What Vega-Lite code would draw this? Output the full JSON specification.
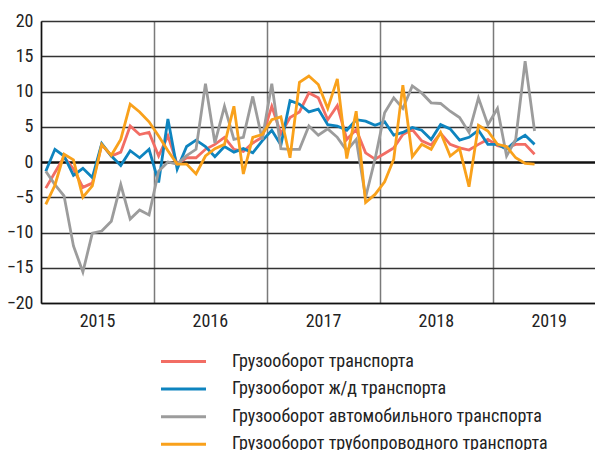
{
  "$schema": "https://vega.github.io/schema/vega-lite/v6.json",
  "width": 554,
  "height": 282,
  "autosize": {"type": "none"},
  "padding": {"left": 41, "top": 21, "right": 0, "bottom": 147},
  "background": "white",
  "config": {
    "view": {"stroke": null},
    "font": "Noto Sans Condensed, Roboto Condensed, Liberation Sans Narrow, Roboto, sans-serif"
  },
  "data": {
    "values": [
      {"date": "2015-01-01", "Грузооборот транспорта": -3.7, "Грузооборот ж/д транспорта": -1.3, "Грузооборот автомобильного транспорта": -1.3, "Грузооборот трубопроводного транспорта": -6.0},
      {"date": "2015-02-01", "Грузооборот транспорта": -1.5, "Грузооборот ж/д транспорта": 1.8, "Грузооборот автомобильного транспорта": -3.2, "Грузооборот трубопроводного транспорта": -3.3},
      {"date": "2015-03-01", "Грузооборот транспорта": 0.7, "Грузооборот ж/д транспорта": 0.85, "Грузооборот автомобильного транспорта": -4.8, "Грузооборот трубопроводного транспорта": 1.1},
      {"date": "2015-04-01", "Грузооборот транспорта": -1.0, "Грузооборот ж/д транспорта": -1.9, "Грузооборот автомобильного транспорта": -11.9, "Грузооборот трубопроводного транспорта": 0.3},
      {"date": "2015-05-01", "Грузооборот транспорта": -3.6, "Грузооборот ж/д транспорта": -0.9, "Грузооборот автомобильного транспорта": -15.6, "Грузооборот трубопроводного транспорта": -5.0},
      {"date": "2015-06-01", "Грузооборот транспорта": -3.0, "Грузооборот ж/д транспорта": -2.2, "Грузооборот автомобильного транспорта": -10.1, "Грузооборот трубопроводного транспорта": -3.4},
      {"date": "2015-07-01", "Грузооборот транспорта": 2.5, "Грузооборот ж/д транспорта": 2.6, "Грузооборот автомобильного транспорта": -9.8, "Грузооборот трубопроводного транспорта": 2.5},
      {"date": "2015-08-01", "Грузооборот транспорта": 0.85, "Грузооборот ж/д транспорта": 0.85, "Грузооборот автомобильного транспорта": -8.4, "Грузооборот трубопроводного транспорта": 0.95},
      {"date": "2015-09-01", "Грузооборот транспорта": 1.4, "Грузооборот ж/д транспорта": -0.5, "Грузооборот автомобильного транспорта": -3.2, "Грузооборот трубопроводного транспорта": 3.2},
      {"date": "2015-10-01", "Грузооборот транспорта": 5.1, "Грузооборот ж/д транспорта": 1.6, "Грузооборот автомобильного транспорта": -8.1, "Грузооборот трубопроводного транспорта": 8.2},
      {"date": "2015-11-01", "Грузооборот транспорта": 3.9, "Грузооборот ж/д транспорта": 0.6, "Грузооборот автомобильного транспорта": -6.8, "Грузооборот трубопроводного транспорта": 7.1},
      {"date": "2015-12-01", "Грузооборот транспорта": 4.2, "Грузооборот ж/д транспорта": 1.8, "Грузооборот автомобильного транспорта": -7.5, "Грузооборот трубопроводного транспорта": 5.7},
      {"date": "2016-01-01", "Грузооборот транспорта": 0.85, "Грузооборот ж/д транспорта": -2.9, "Грузооборот автомобильного транспорта": -1.3, "Грузооборот трубопроводного транспорта": 3.7},
      {"date": "2016-02-01", "Грузооборот транспорта": 3.7, "Грузооборот ж/д транспорта": 6.1, "Грузооборот автомобильного транспорта": 0.0, "Грузооборот трубопроводного транспорта": 1.6},
      {"date": "2016-03-01", "Грузооборот транспорта": -0.3, "Грузооборот ж/д транспорта": -1.0, "Грузооборот автомобильного транспорта": -0.3, "Грузооборот трубопроводного транспорта": -0.3},
      {"date": "2016-04-01", "Грузооборот транспорта": 0.6, "Грузооборот ж/д транспорта": 2.2, "Грузооборот автомобильного транспорта": 0.9, "Грузооборот трубопроводного транспорта": -0.3},
      {"date": "2016-05-01", "Грузооборот транспорта": 0.6, "Грузооборот ж/д транспорта": 3.1, "Грузооборот автомобильного транспорта": 1.8, "Грузооборот трубопроводного транспорта": -1.7},
      {"date": "2016-06-01", "Грузооборот транспорта": 1.8, "Грузооборот ж/д транспорта": 2.2, "Грузооборот автомобильного транспорта": 11.1, "Грузооборот трубопроводного транспорта": 0.85},
      {"date": "2016-07-01", "Грузооборот транспорта": 2.5, "Грузооборот ж/д транспорта": 0.75, "Грузооборот автомобильного транспорта": 2.7, "Грузооборот трубопроводного транспорта": 1.9},
      {"date": "2016-08-01", "Грузооборот транспорта": 3.5, "Грузооборот ж/д транспорта": 2.2, "Грузооборот автомобильного транспорта": 7.9, "Грузооборот трубопроводного транспорта": 2.5},
      {"date": "2016-09-01", "Грузооборот транспорта": 1.8, "Грузооборот ж/д транспорта": 1.4, "Грузооборот автомобильного транспорта": 3.2, "Грузооборот трубопроводного транспорта": 7.9},
      {"date": "2016-10-01", "Грузооборот транспорта": 1.5, "Грузооборот ж/д транспорта": 1.9, "Грузооборот автомобильного транспорта": 3.5, "Грузооборот трубопроводного транспорта": -1.7},
      {"date": "2016-11-01", "Грузооборот транспорта": 2.7, "Грузооборот ж/д транспорта": 1.3, "Грузооборот автомобильного транспорта": 9.3, "Грузооборот трубопроводного транспорта": 3.5},
      {"date": "2016-12-01", "Грузооборот транспорта": 3.5, "Грузооборот ж/д транспорта": 3.0, "Грузооборот автомобильного транспорта": 3.2, "Грузооборот трубопроводного транспорта": 3.9},
      {"date": "2017-01-01", "Грузооборот транспорта": 7.9, "Грузооборот ж/д транспорта": 4.5, "Грузооборот автомобильного транспорта": 11.1, "Грузооборот трубопроводного транспорта": 6.0},
      {"date": "2017-02-01", "Грузооборот транспорта": 4.0, "Грузооборот ж/д транспорта": 2.4, "Грузооборот автомобильного транспорта": 1.9, "Грузооборот трубопроводного транспорта": 6.4},
      {"date": "2017-03-01", "Грузооборот транспорта": 6.3, "Грузооборот ж/д транспорта": 8.7, "Грузооборот автомобильного транспорта": 1.8, "Грузооборот трубопроводного транспорта": 0.6},
      {"date": "2017-04-01", "Грузооборот транспорта": 7.1, "Грузооборот ж/д транспорта": 8.2, "Грузооборот автомобильного транспорта": 1.8, "Грузооборот трубопроводного транспорта": 11.3},
      {"date": "2017-05-01", "Грузооборот транспорта": 9.8, "Грузооборот ж/д транспорта": 7.1, "Грузооборот автомобильного транспорта": 5.1, "Грузооборот трубопроводного транспорта": 12.2},
      {"date": "2017-06-01", "Грузооборот транспорта": 9.1, "Грузооборот ж/д транспорта": 7.5, "Грузооборот автомобильного транспорта": 3.8, "Грузооборот трубопроводного транспорта": 11.0},
      {"date": "2017-07-01", "Грузооборот транспорта": 6.0, "Грузооборот ж/д транспорта": 5.3, "Грузооборот автомобильного транспорта": 4.7, "Грузооборот трубопроводного транспорта": 7.6},
      {"date": "2017-08-01", "Грузооборот транспорта": 8.0, "Грузооборот ж/д транспорта": 5.1, "Грузооборот автомобильного транспорта": 3.5, "Грузооборот трубопроводного транспорта": 11.8},
      {"date": "2017-09-01", "Грузооборот транспорта": 3.2, "Грузооборот ж/д транспорта": 4.5, "Грузооборот автомобильного транспорта": 1.6, "Грузооборот трубопроводного транспорта": 0.5},
      {"date": "2017-10-01", "Грузооборот транспорта": 4.6, "Грузооборот ж/д транспорта": 6.0, "Грузооборот автомобильного транспорта": 3.2, "Грузооборот трубопроводного транспорта": 7.2},
      {"date": "2017-11-01", "Грузооборот транспорта": 1.3, "Грузооборот ж/д транспорта": 5.8, "Грузооборот автомобильного транспорта": -5.0, "Грузооборот трубопроводного транспорта": -5.75},
      {"date": "2017-12-01", "Грузооборот транспорта": 0.4, "Грузооборот ж/д транспорта": 5.2, "Грузооборот автомобильного транспорта": 0.4, "Грузооборот трубопроводного транспорта": -4.6},
      {"date": "2018-01-01", "Грузооборот транспорта": 1.2, "Грузооборот ж/д транспорта": 5.7, "Грузооборот автомобильного транспорта": 7.0, "Грузооборот трубопроводного транспорта": -2.8},
      {"date": "2018-02-01", "Грузооборот транспорта": 2.0, "Грузооборот ж/д транспорта": 3.8, "Грузооборот автомобильного транспорта": 9.1, "Грузооборот трубопроводного транспорта": 0.4},
      {"date": "2018-03-01", "Грузооборот транспорта": 3.9, "Грузооборот ж/д транспорта": 4.2, "Грузооборот автомобильного транспорта": 7.6, "Грузооборот трубопроводного транспорта": 10.9},
      {"date": "2018-04-01", "Грузооборот транспорта": 4.6, "Грузооборот ж/д транспорта": 4.9, "Грузооборот автомобильного транспорта": 10.8, "Грузооборот трубопроводного транспорта": 0.75},
      {"date": "2018-05-01", "Грузооборот транспорта": 3.0, "Грузооборот ж/д транспорта": 4.5, "Грузооборот автомобильного транспорта": 9.8, "Грузооборот трубопроводного транспорта": 2.5},
      {"date": "2018-06-01", "Грузооборот транспорта": 2.4, "Грузооборот ж/д транспорта": 3.2, "Грузооборот автомобильного транспорта": 8.4, "Грузооборот трубопроводного транспорта": 1.8},
      {"date": "2018-07-01", "Грузооборот транспорта": 4.1, "Грузооборот ж/д транспорта": 5.3, "Грузооборот автомобильного транспорта": 8.3, "Грузооборот трубопроводного транспорта": 4.2},
      {"date": "2018-08-01", "Грузооборот транспорта": 2.5, "Грузооборот ж/д транспорта": 4.7, "Грузооборот автомобильного транспорта": 7.2, "Грузооборот трубопроводного транспорта": 0.85},
      {"date": "2018-09-01", "Грузооборот транспорта": 2.0, "Грузооборот ж/д транспорта": 3.1, "Грузооборот автомобильного транспорта": 6.3, "Грузооборот трубопроводного транспорта": 1.9},
      {"date": "2018-10-01", "Грузооборот транспорта": 1.7, "Грузооборот ж/д транспорта": 3.5, "Грузооборот автомобильного транспорта": 4.2, "Грузооборот трубопроводного транспорта": -3.5},
      {"date": "2018-11-01", "Грузооборот транспорта": 2.5, "Грузооборот ж/д транспорта": 4.5, "Грузооборот автомобильного транспорта": 9.1, "Грузооборот трубопроводного транспорта": 5.2},
      {"date": "2018-12-01", "Грузооборот транспорта": 3.2, "Грузооборот ж/д транспорта": 2.5, "Грузооборот автомобильного транспорта": 5.3, "Грузооборот трубопроводного транспорта": 4.4},
      {"date": "2019-01-01", "Грузооборот транспорта": 2.3, "Грузооборот ж/д транспорта": 2.5, "Грузооборот автомобильного транспорта": 7.6, "Грузооборот трубопроводного транспорта": 2.5},
      {"date": "2019-02-01", "Грузооборот транспорта": 2.0, "Грузооборот ж/д транспорта": 1.8, "Грузооборот автомобильного транспорта": 0.85, "Грузооборот трубопроводного транспорта": 2.2},
      {"date": "2019-03-01", "Грузооборот транспорта": 2.5, "Грузооборот ж/д транспорта": 3.0, "Грузооборот автомобильного транспорта": 3.2, "Грузооборот трубопроводного транспорта": 0.6},
      {"date": "2019-04-01", "Грузооборот транспорта": 2.5, "Грузооборот ж/д транспорта": 3.8, "Грузооборот автомобильного транспорта": 14.3, "Грузооборот трубопроводного транспорта": -0.2},
      {"date": "2019-05-01", "Грузооборот транспорта": 1.1, "Грузооборот ж/д транспорта": 2.5, "Грузооборот автомобильного транспорта": 4.4, "Грузооборот трубопроводного транспорта": -0.3}
    ]
  },
  "transform": [
    {"fold": ["Грузооборот транспорта", "Грузооборот ж/д транспорта", "Грузооборот автомобильного транспорта", "Грузооборот трубопроводного транспорта"], "as": ["series", "value"]}
  ],
  "mark": {"type": "line", "strokeWidth": 2.8, "strokeJoin": "miter"},
  "encoding": {
    "x": {
      "field": "date",
      "timeUnit": "utcyearmonth",
      "type": "temporal",
      "bandPosition": 0.5,
      "title": null,
      "scale": {
        "type": "utc",
        "domain": [{"year": 2015, "month": 1, "date": 1, "utc": true}, {"year": 2019, "month": 11, "date": 28, "utc": true}],
        "nice": false
      },
      "axis": {
        "values": [
          {"year": 2015, "month": 1, "date": 1, "utc": true},
          {"year": 2016, "month": 1, "date": 1, "utc": true},
          {"year": 2017, "month": 1, "date": 1, "utc": true},
          {"year": 2018, "month": 1, "date": 1, "utc": true},
          {"year": 2019, "month": 1, "date": 1, "utc": true}
        ],
        "labelExpr": "utcFormat(datum.value, '%Y')",
        "labelOffset": 56,
        "labelAlign": "center",
        "labelFlush": false,
        "labelOverlap": false,
        "labelBound": false,
        "labelPadding": 9,
        "labelFontSize": 18,
        "labelColor": "#222",
        "ticks": false,
        "grid": true,
        "gridColor": "#7a7a7a",
        "gridWidth": 1.5,
        "domainColor": "#111",
        "domainWidth": 1.5
      }
    },
    "y": {
      "field": "value",
      "type": "quantitative",
      "title": null,
      "scale": {"domain": [-20, 20], "nice": false, "zero": false},
      "axis": {
        "values": [-20, -15, -10, -5, 0, 5, 10, 15, 20],
        "grid": true,
        "gridColor": {"condition": {"test": "datum.value === 0", "value": "#111"}, "value": "#333"},
        "gridWidth": {"condition": {"test": "datum.value === 0", "value": 2.5}, "value": 1.4},
        "ticks": false,
        "domainColor": "#111",
        "domainWidth": 1.5,
        "labelPadding": 8,
        "labelFontSize": 18,
        "labelColor": "#222"
      }
    },
    "color": {
      "field": "series",
      "type": "nominal",
      "scale": {
        "domain": ["Грузооборот транспорта", "Грузооборот ж/д транспорта", "Грузооборот автомобильного транспорта", "Грузооборот трубопроводного транспорта"],
        "range": ["#F26D64", "#0E84BF", "#9C9C9C", "#F9A11B"]
      },
      "legend": {
        "orient": "none",
        "legendX": 132,
        "legendY": 330,
        "direction": "vertical",
        "title": null,
        "padding": 0,
        "symbolType": "M-2.5,0H2.5",
        "symbolSize": 324,
        "symbolStrokeWidth": 3,
        "labelOffset": 38,
        "labelFontSize": 18,
        "labelColor": "#222",
        "labelLimit": 500,
        "rowPadding": 7.6
      }
    }
  }
}
